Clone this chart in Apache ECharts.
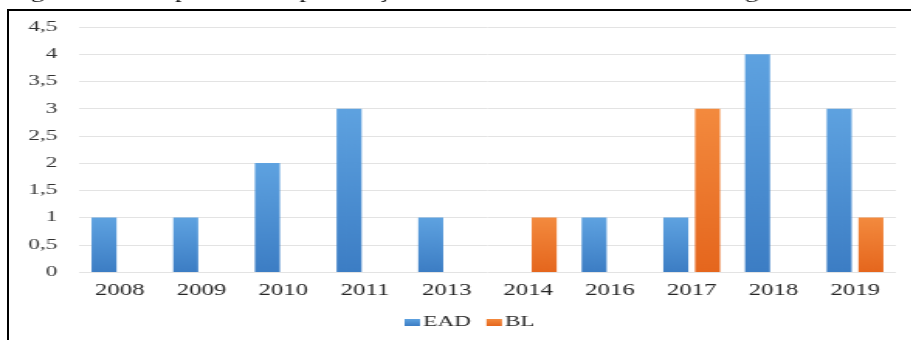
<!DOCTYPE html>
<html>
<head>
<meta charset="utf-8">
<script src="https://cdn.jsdelivr.net/npm/echarts@6/dist/echarts.min.js"></script>
<style>
    html, body { margin: 0; padding: 0; background: #fff; overflow: hidden; }
    #wrap { position: relative; width: 911px; height: 340px; overflow: hidden; }
    #frame { position: absolute; left: 7px; top: 9px; width: 940px; height: 360px; border: 2px solid #000; box-sizing: border-box; }
    /* the reference picture is stretched sideways, so the chart is drawn narrow and widened */
    #chart { position: absolute; left: 0; top: 0; width: 588px; height: 340px; transform: scaleX(1.55); transform-origin: 0 0; }
</style>
</head>
<body>
<div id="wrap">
    <div id="frame"></div>
    <div id="chart"></div>
</div>
<script>
    const caption = 'Figura 3 – Comparativo de publicações entre EAD e Blended Learning';
    const categories = ['2008', '2009', '2010', '2011', '2013', '2014', '2016', '2017', '2018', '2019'];
    const ead = [1, 1, 2, 3, 1, 0, 1, 1, 4, 3];
    const bl = [0, 0, 0, 0, 0, 1, 0, 3, 0, 1];
    const yTicks = [0, 0.5, 1, 1.5, 2, 2.5, 3, 3.5, 4, 4.5];

    const serif = '"Liberation Serif", "DejaVu Serif", serif';

    const chart = echarts.init(document.getElementById('chart'));
    chart.setOption({
        animation: false,
        textStyle: { fontFamily: serif },
        graphic: [{
            // caption sits mostly above the picture, only its lower part shows
            type: 'text',
            x: 5.8,
            y: 2.5,
            silent: true,
            style: {
                text: caption,
                font: '17px ' + serif,
                verticalAlign: 'bottom',
                fill: '#000'
            }
        }],
        color: ['#4f8fd2', '#ee7a2e'],
        legend: {
            left: 256,
            top: 310,
            itemWidth: 10,
            itemHeight: 7,
            itemGap: 10,
            icon: 'rect',
            textStyle: { fontFamily: serif, fontSize: 15, color: '#262626', padding: [0, 0, 0, -3] },
            data: ['EAD', 'BL']
        },
        grid: { left: 51, right: 10, top: 27, bottom: 68 },
        xAxis: {
            type: 'category',
            data: categories,
            axisLine: { show: false },
            axisTick: { show: false },
            axisLabel: { fontFamily: serif, fontSize: 16, color: '#262626', margin: 11 }
        },
        yAxis: {
            type: 'value',
            min: yTicks[0],
            max: yTicks[yTicks.length - 1],
            interval: 0.5,
            splitLine: { lineStyle: { color: '#e3e3e3', width: 1 } },
            axisLabel: {
                fontFamily: serif,
                fontSize: 15,
                color: '#333',
                margin: 14,
                formatter: v => String(v).replace('.', ',')
            }
        },
        series: [{
            name: 'EAD',
            type: 'bar',
            barWidth: '30.6%',
            barGap: '27%',
            data: ead,
            itemStyle: {
                color: new echarts.graphic.LinearGradient(0, 0, 0, 1, [
                    { offset: 0, color: '#5ea2e0' },
                    { offset: 1, color: '#3c7dc4' }
                ])
            }
        }, {
            name: 'BL',
            type: 'bar',
            barWidth: '30.6%',
            data: bl,
            itemStyle: {
                color: new echarts.graphic.LinearGradient(0, 0, 0, 1, [
                    { offset: 0, color: '#f38a3e' },
                    { offset: 1, color: '#e5661d' }
                ])
            }
        }]
    });
</script>
</body>
</html>
